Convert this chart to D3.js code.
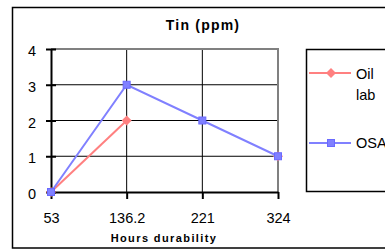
<!DOCTYPE html>
<html><head><meta charset="utf-8">
<script src="https://cdn.jsdelivr.net/npm/d3@7"></script>
<style>body{margin:0;background:#fff}svg{display:block}</style>
</head><body><svg id="c" width="385" height="251"></svg>
<script>
const categories = ["53", "136.2", "221", "324"];
const oilLab = [0, 2, null, 1];
const osa = [0, 3, 2, 1];
const yTicks = [0, 1, 2, 3, 4];
const title = "Tin (ppm)";
const xTitle = "Hours durability";
const seriesNames = ["Oil", "OSA"];

const svg = d3.select("#c");
const font = "Liberation Sans, Arial, sans-serif";
const L = 51, R = 278, T = 49, B = 192;
const x = d3.scalePoint().domain(categories).range([L, R]).padding(0);
const y = d3.scaleLinear().domain([0, 4]).range([B, T]);

// outer frame
svg.append("rect").attr("x", 12.5).attr("y", 7.5).attr("width", 390).attr("height", 240.5)
  .attr("fill", "#fff").attr("stroke", "#000").attr("stroke-width", 1.5);

// title
svg.append("text").attr("x", 203).attr("y", 30).attr("text-anchor", "middle")
  .attr("font-family", font).attr("font-weight", "bold").attr("font-size", 14)
  .attr("letter-spacing", 1.2).text(title);

// gridlines
const g = svg.append("g");
g.selectAll(".hg").data(yTicks.filter(d => d > 0 && d < 4)).join("line")
  .attr("x1", L).attr("x2", R).attr("y1", d => y(d)).attr("y2", d => y(d))
  .attr("stroke", "#000").attr("stroke-width", 1);
g.selectAll(".vg").data(categories.slice(1, -1)).join("line")
  .attr("x1", d => x(d)).attr("x2", d => x(d)).attr("y1", T).attr("y2", B)
  .attr("stroke", "#000").attr("stroke-width", 1);
// plot border gray top/right
g.append("line").attr("x1", L).attr("x2", R + 1).attr("y1", T).attr("y2", T).attr("stroke", "#808080").attr("stroke-width", 2);
g.append("line").attr("x1", R).attr("x2", R).attr("y1", T).attr("y2", B).attr("stroke", "#808080").attr("stroke-width", 2);

// axes
const yAxis = svg.append("g").attr("transform", `translate(${L},0)`)
  .call(d3.axisLeft(y).tickValues(yTicks).tickFormat(d3.format("d")).tickSizeInner(5).tickSizeOuter(0).tickPadding(10));
yAxis.select(".domain").attr("stroke", "#000").attr("stroke-width", 2);
yAxis.selectAll(".tick line").attr("stroke-width", 2).attr("x2", -5).attr("x1", 5);
yAxis.selectAll(".tick text").attr("font-family", font).attr("font-size", 14.5).attr("fill", "#000").attr("dy", "0.45em");

const xAxis = svg.append("g").attr("transform", `translate(0,${B})`)
  .call(d3.axisBottom(x).tickSizeInner(7).tickSizeOuter(0).tickPadding(14));
xAxis.select(".domain").attr("stroke", "#000").attr("stroke-width", 2);
xAxis.selectAll(".tick line").attr("stroke-width", 2);
xAxis.selectAll(".tick text").attr("font-family", font).attr("font-size", 14.5).attr("fill", "#000");

svg.append("text").attr("x", 164).attr("y", 242).attr("text-anchor", "middle")
  .attr("font-family", font).attr("font-weight", "bold").attr("font-size", 11)
  .attr("letter-spacing", 1.4).text(xTitle);

// series
const pink = "#FF8080", blue = "#8080FF";
const line = d3.line().defined(d => d.v != null).x(d => x(d.c)).y(d => y(d.v));
const oilData = categories.map((c, i) => ({c, v: oilLab[i]}));
const osaData = categories.map((c, i) => ({c, v: osa[i]}));
const diamond = d3.symbol(d3.symbolDiamond2, 64);

svg.append("path").datum(oilData).attr("d", line).attr("fill", "none").attr("stroke", pink).attr("stroke-width", 2);
svg.selectAll(".pm").data(oilData.filter(d => d.v != null)).join("path")
  .attr("d", diamond).attr("fill", pink)
  .attr("transform", d => `translate(${x(d.c)},${y(d.v)})`);

svg.append("path").datum(osaData).attr("d", line).attr("fill", "none").attr("stroke", blue).attr("stroke-width", 2);
svg.selectAll(".bm").data(osaData.filter(d => d.v != null)).join("rect")
  .attr("x", d => x(d.c) - 3.5).attr("y", d => y(d.v) - 3.5).attr("width", 7).attr("height", 7)
  .attr("fill", blue).attr("stroke", "#6a6aff").attr("stroke-width", 1);

// legend
svg.append("rect").attr("x", 306.5).attr("y", 49.5).attr("width", 100).attr("height", 142)
  .attr("fill", "#fff").attr("stroke", "#000").attr("stroke-width", 1.5);
const lg = svg.append("g");
lg.append("line").attr("x1", 309).attr("x2", 351).attr("y1", 73).attr("y2", 73).attr("stroke", pink).attr("stroke-width", 2);
lg.append("path").attr("d", diamond).attr("fill", pink).attr("transform", "translate(331,73)");
lg.append("text").attr("x", 356).attr("y", 79).attr("font-family", font).attr("font-size", 14.5).text(seriesNames[0]);
lg.append("text").attr("x", 356).attr("y", 100).attr("font-family", font).attr("font-size", 14.5).text("lab");
lg.append("line").attr("x1", 309).attr("x2", 351).attr("y1", 143).attr("y2", 143).attr("stroke", blue).attr("stroke-width", 2);
lg.append("rect").attr("x", 327.5).attr("y", 139.5).attr("width", 7).attr("height", 7).attr("fill", blue).attr("stroke", "#6a6aff");
lg.append("text").attr("x", 356).attr("y", 148).attr("font-family", font).attr("font-size", 14.5).text(seriesNames[1]);
</script></body></html>
